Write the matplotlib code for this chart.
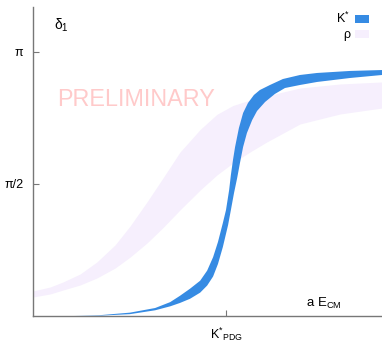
import numpy as np
import matplotlib
matplotlib.use("Agg")
import matplotlib.pyplot as plt
from matplotlib.patches import Patch

plt.rcParams['font.family'] = ['Liberation Sans', 'DejaVu Sans']
plt.rcParams['mathtext.fontset'] = 'custom'
plt.rcParams['mathtext.rm'] = 'Liberation Sans'
plt.rcParams['mathtext.it'] = 'Liberation Sans:italic'
plt.rcParams['mathtext.sf'] = 'Liberation Sans'

# ---- data (x in arbitrary energy units 0..1, phase in radians) ----
rho_x = [0.000, 0.049, 0.086, 0.135, 0.183, 0.235, 0.278, 0.327, 0.372, 0.421,
         0.479, 0.527, 0.573, 0.622, 0.670, 0.765, 0.880, 1.000]
rho_upper = [0.298, 0.345, 0.405, 0.500, 0.643, 0.845, 1.070, 1.360, 1.640, 1.950,
             2.220, 2.400, 2.505, 2.570, 2.620, 2.713, 2.761, 2.785]
rho_lower = [0.226, 0.262, 0.309, 0.369, 0.452, 0.570, 0.700, 0.870, 1.050, 1.261,
             1.499, 1.678, 1.821, 1.952, 2.071, 2.285, 2.404, 2.475]

kst_upper_x = [0.120, 0.192, 0.278, 0.350, 0.393, 0.421, 0.450, 0.479, 0.499, 0.516,
               0.530, 0.544, 0.553, 0.562, 0.567, 0.573, 0.579, 0.590, 0.602, 0.616,
               0.633, 0.650, 0.679, 0.716, 0.765, 0.814, 0.908, 1.000]
kst_upper = [0.000, 0.010, 0.040, 0.095, 0.165, 0.240, 0.325, 0.420, 0.540, 0.700,
             0.881, 1.107, 1.261, 1.499, 1.678, 1.856, 2.011, 2.237, 2.416, 2.535,
             2.630, 2.689, 2.749, 2.820, 2.868, 2.892, 2.916, 2.927]
kst_lower_x = [0.120, 0.192, 0.278, 0.350, 0.393, 0.421, 0.450, 0.479, 0.499, 0.516,
               0.530, 0.544, 0.559, 0.567, 0.576, 0.585, 0.593, 0.602, 0.613, 0.628,
               0.642, 0.665, 0.693, 0.722, 0.765, 0.814, 0.908, 1.000]
kst_lower = [0.000, 0.004, 0.022, 0.068, 0.115, 0.155, 0.205, 0.278, 0.362, 0.470,
             0.619, 0.821, 1.083, 1.261, 1.464, 1.642, 1.821, 2.011, 2.178, 2.332,
             2.440, 2.547, 2.642, 2.713, 2.749, 2.785, 2.832, 2.868]

k_pdg = 0.553
ytick_vals = [np.pi / 2, np.pi]
ytick_labels = ['π/2', 'π']
xtick_labels = [r'K$^{*}$$_{\rm PDG}$']

kst_color = '#368be3'
rho_color = '#f6effd'

W, H = 382, 342
fig = plt.figure(figsize=(W / 100, H / 100), dpi=100)
ax = fig.add_axes([33 / W, (H - 316) / H, 1 - 33 / W, (316 - 7) / H])

ax.fill_between(rho_x, rho_lower, rho_upper, color=rho_color, lw=0, zorder=1)
ax.fill(np.concatenate([kst_upper_x, kst_lower_x[::-1]]),
        np.concatenate([kst_upper, kst_lower[::-1]]),
        color=kst_color, lw=0, zorder=2)

ax.set_xlim(0, 1)
ax.set_ylim(0, 3.677)
ax.set_xticks([k_pdg])
ax.set_xticklabels(xtick_labels, fontsize=9)
ax.set_yticks(ytick_vals)
ax.set_yticklabels(ytick_labels, fontsize=9)
ax.tick_params(direction='in', length=4, width=0.8, color='#777777', pad=7)
ax.tick_params(axis='x', pad=7)
for s in ['top', 'right']:
    ax.spines[s].set_visible(False)
for s in ['left', 'bottom']:
    ax.spines[s].set_color('#777777')
    ax.spines[s].set_linewidth(1.0)

fig.text(54 / W, (H - 25) / H, r'δ$_1$', fontsize=10, va='center', ha='left')
fig.text(306 / W, (H - 303) / H, r'a E$_{\rm CM}$', fontsize=9.5, va='center', ha='left')
fig.text(57 / W, (H - 100) / H, 'PRELIMINARY', fontsize=16.8, color='#ffcaca',
         va='center', ha='left')

handles = [Patch(color=kst_color, lw=0), Patch(color=rho_color, lw=0)]
fig.legend(handles, [r'K$^{*}$', 'ρ'], loc='upper right',
           bbox_to_anchor=(369 / W, (H - 11) / H), bbox_transform=fig.transFigure,
           frameon=False, markerfirst=False, fontsize=9, handlelength=1.1,
           handleheight=0.55, handletextpad=0.4, labelspacing=0.25,
           borderpad=0, borderaxespad=0)

fig.savefig('out.png', dpi=100)
